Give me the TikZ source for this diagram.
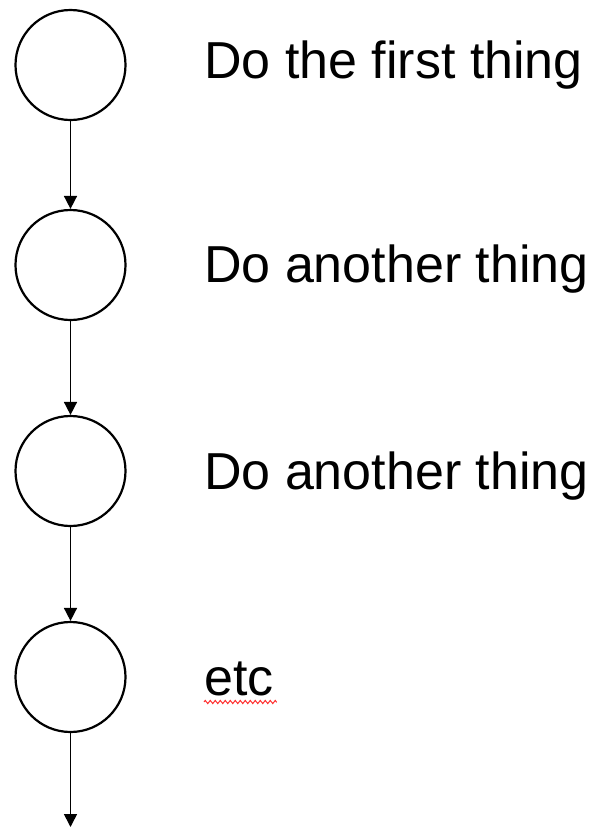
\documentclass[tikz,border=0pt]{standalone}
\usepackage{fontspec}
\setmainfont{Liberation Sans}
\usetikzlibrary{arrows.meta,decorations.pathmorphing}
\begin{document}
\begin{tikzpicture}[x=1pt,y=-1pt,
  stepcircle/.style={circle,draw=black,line width=2.2pt,minimum size=110pt,inner sep=0pt},
  flow/.style={line width=1.6pt,-{Triangle[width=13pt,length=13pt]}},
  label/.style={anchor=base west,inner sep=0pt,font=\fontsize{52}{62}\selectfont}
]
\useasboundingbox (0,0) rectangle (598,828);

% the four steps
\node[stepcircle] (c1) at (70.5,65) {};
\node[stepcircle] (c2) at (70.5,265) {};
\node[stepcircle] (c3) at (70.5,471) {};
\node[stepcircle] (c4) at (70.5,677) {};
\coordinate (end) at (70.5,827);

% step descriptions
\node[label] (t1) at (204,78) {Do the first thing};
\node[label] (t2) at (204,282) {Do another thing};
\node[label] (t3) at (204,489) {Do another thing};
\node[label] (t4) at (204,695) {etc};

% connectors
\draw[flow] (c1) -- (c2);
\draw[flow] (c2) -- (c3);
\draw[flow] (c3) -- (c4);
\draw[flow] (c4) -- (end);

% spell-check squiggle under "etc"
\draw[red!80!white,line width=1pt,decorate,
      decoration={zigzag,segment length=5pt,amplitude=1.6pt}]
  ([shift={(0,-7pt)}]t4.base west) -- ([shift={(3pt,-7pt)}]t4.base east);
\end{tikzpicture}
\end{document}
